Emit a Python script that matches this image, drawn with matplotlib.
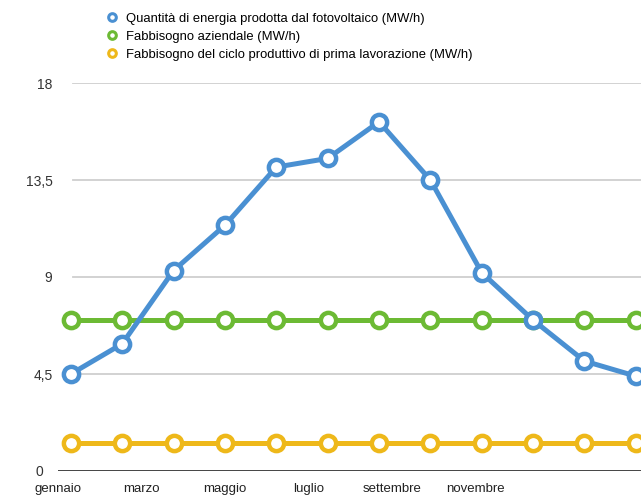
import matplotlib
matplotlib.use("Agg")
import matplotlib.pyplot as plt
import matplotlib.transforms as mtransforms
from matplotlib.lines import Line2D
import numpy as np

plt.rcParams['font.family'] = ['Liberation Sans', 'DejaVu Sans']

mesi = ['gennaio', 'febbraio', 'marzo', 'aprile', 'maggio', 'giugno',
        'luglio', 'agosto', 'settembre', 'ottobre', 'novembre', 'dicembre']
fotovoltaico = [4.5, 5.9, 9.3, 11.4, 14.1, 14.5, 16.2, 13.5, 9.2, 7.0, 5.1, 4.4]
aziendale = [7.0] * 12
prima_lavorazione = [1.3] * 12

y_ticks = [0, 4.5, 9, 13.5, 18]
y_labels = ['0', '4,5', '9', '13,5', '18']

nomi = ['Quantità di energia prodotta dal fotovoltaico (MW/h)',
        'Fabbisogno aziendale (MW/h)',
        'Fabbisogno del ciclo produttivo di prima lavorazione (MW/h)']
colori = ['#4a90d2', '#6cba34', '#eeb81a']

fig = plt.figure(figsize=(6.41, 4.96), dpi=100)
ax = fig.add_axes([58 / 641, 25 / 496, 583 / 641, 388 / 496])

x = np.arange(len(mesi))
serie = [fotovoltaico, aziendale, prima_lavorazione]
# draw yellow first, blue on top
for valori, col, z in zip(serie[::-1], colori[::-1], [3, 4, 5]):
    ax.plot(x, valori, color=col, lw=3.6, marker='o', markersize=11,
            markerfacecolor='white', markeredgecolor=col, markeredgewidth=3.2,
            clip_on=False, zorder=z)

ax.set_xlim(-0.233, 11.1)
ax.set_ylim(0, 18)

for t in y_ticks[1:]:
    ax.axhline(t, xmin=0.025, color='#cfcfcf', lw=1.3, zorder=1)
ax.axhline(0, color='#444444', lw=1.4, zorder=2)

ax.set_yticks(y_ticks)
ax.set_yticklabels(y_labels, fontsize=10, color='#333333')
# month labels sit on their own compressed spacing
pos = np.arange(0, 12, 2) * 0.8125 - 0.25
ax.set_xticks(pos)
ax.set_xticklabels(mesi[::2], fontsize=9.5, color='#222222', va='baseline')
ax.tick_params(length=0)
ax.tick_params(axis='x', pad=15)
ax.tick_params(axis='y', pad=4)
for s in ax.spines.values():
    s.set_visible(False)

# the zero label sits a bit further left than the others
zero = ax.get_yticklabels()[0]
zero.set_transform(zero.get_transform() +
                   mtransforms.ScaledTranslation(-9 / 100, 0, fig.dpi_scale_trans))

handles = [Line2D([], [], ls='none', marker='o', markersize=5.5,
                  markerfacecolor='white', markeredgecolor=c, markeredgewidth=2.2)
           for c in colori]
fig.legend(handles, nomi, loc='upper left', bbox_to_anchor=(99 / 641, 1 - 6 / 496),
           frameon=False, fontsize=9.4, handlelength=1.0, handletextpad=0.6,
           labelspacing=0.45, borderpad=0)

fig.savefig('out.png', dpi=100, facecolor='white')
